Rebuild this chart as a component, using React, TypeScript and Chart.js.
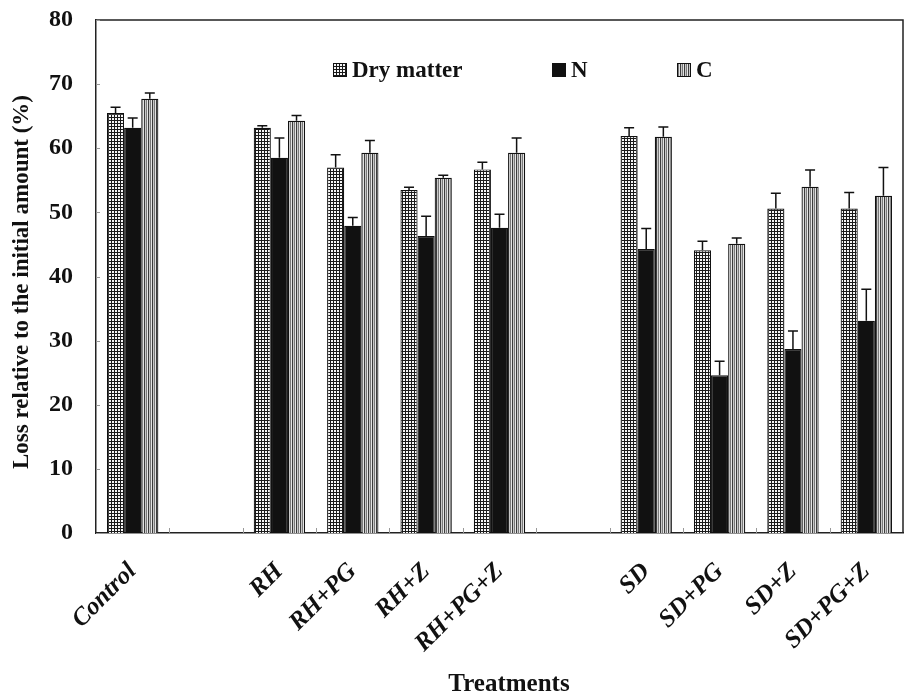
import React, { useEffect, useRef } from "react";
import { Chart, registerables } from "chart.js";

Chart.register(...registerables);

const categories = ["Control", "", "RH", "RH+PG", "RH+Z", "RH+PG+Z", "", "SD", "SD+PG", "SD+Z", "SD+PG+Z"];
const dryMatter = [65.5, null, 63.2, 57.0, 53.5, 56.7, null, 61.9, 44.1, 50.6, 50.6];
const dryMatterErr = [0.9, null, 0.3, 2.0, 0.4, 1.1, null, 1.3, 1.4, 2.4, 2.5];
const nitrogen = [63.2, null, 58.5, 47.9, 46.3, 47.6, null, 44.3, 24.6, 28.7, 33.1];
const nitrogenErr = [1.5, null, 3.1, 1.3, 3.1, 2.1, null, 3.2, 2.2, 2.8, 4.9];
const carbon = [67.7, null, 64.3, 59.3, 55.4, 59.3, null, 61.8, 45.1, 54.0, 52.6];
const carbonErr = [0.9, null, 0.8, 1.9, 0.4, 2.3, null, 1.5, 0.9, 2.6, 4.4];
const yTicks = [0, 10, 20, 30, 40, 50, 60, 70, 80];
const seriesNames = ["Dry matter", "N", "C"];

const SERIF = "'Liberation Serif', 'Times New Roman', serif";

function makePattern(kind: string): CanvasPattern | string {
  const c = document.createElement("canvas");
  const ctx = c.getContext("2d")!;
  if (kind === "dots") {
    c.width = 3; c.height = 3;
    ctx.fillStyle = "#1a1a1a"; ctx.fillRect(0, 0, 3, 3);
    ctx.fillStyle = "#f6f6f6"; ctx.fillRect(1, 1, 2, 2);
  } else if (kind === "stripes") {
    c.width = 4; c.height = 2;
    const cols = ["#3c3c3c", "#c8c8c8", "#7a7a7a", "#e4e4e4"];
    cols.forEach((col, i) => { ctx.fillStyle = col; ctx.fillRect(i, 0, 1, 2); });
  } else {
    return "#111";
  }
  const p = ctx.createPattern(c, "repeat");
  return p || "#888";
}

const zeroPad = (s: any) => {
  s.paddingTop = 0;
  s.paddingBottom = 0;
  s.paddingLeft = 0;
  s.paddingRight = 0;
};

export default function App() {
  const ref = useRef<HTMLCanvasElement>(null);
  useEffect(() => {
    document.body.style.margin = "0";
    const canvas = ref.current!;
    const dmFill = makePattern("dots");
    const nFill = makePattern("solid");
    const cFill = makePattern("stripes");
    const errs = [dryMatterErr, nitrogenErr, carbonErr];

    const decor = {
      id: "decor",
      afterDatasetsDraw(chart: any) {
        const ctx = chart.ctx;
        const ys = chart.scales.y;
        ctx.save();
        ctx.strokeStyle = "#111";
        ctx.lineWidth = 1.5;
        chart.data.datasets.forEach((ds: any, di: number) => {
          const meta = chart.getDatasetMeta(di);
          meta.data.forEach((el: any, i: number) => {
            const v = ds.data[i];
            const e = errs[di][i];
            if (v == null || e == null) return;
            const yTop = ys.getPixelForValue(v + e);
            ctx.beginPath();
            ctx.moveTo(el.x, el.y);
            ctx.lineTo(el.x, yTop);
            ctx.moveTo(el.x - 5, yTop);
            ctx.lineTo(el.x + 5, yTop);
            ctx.stroke();
          });
        });
        ctx.restore();
      },
      afterDraw(chart: any) {
        const ctx = chart.ctx;
        const a = chart.chartArea;
        const ys = chart.scales.y;
        ctx.save();
        // frame
        ctx.strokeStyle = "#222";
        ctx.lineWidth = 1.5;
        ctx.beginPath();
        ctx.moveTo(a.left, a.top);
        ctx.lineTo(a.right, a.top);
        ctx.lineTo(a.right, a.bottom);
        ctx.stroke();
        // small inner ticks
        ctx.strokeStyle = "#999";
        ctx.lineWidth = 1;
        yTicks.forEach((t) => {
          const y = Math.round(ys.getPixelForValue(t)) + 0.5;
          ctx.beginPath();
          ctx.moveTo(a.left, y);
          ctx.lineTo(a.left + 4, y);
          ctx.stroke();
        });
        const n = categories.length;
        const w = (a.right - a.left) / n;
        for (let i = 1; i < n; i++) {
          const x = Math.round(a.left + i * w) + 0.5;
          ctx.beginPath();
          ctx.moveTo(x, a.bottom);
          ctx.lineTo(x, a.bottom - 5);
          ctx.stroke();
        }
        // legend
        const fills = [dmFill, nFill, cFill];
        const lx = [333, 552, 677];
        const ly = 70;
        ctx.font = `bold 23px ${SERIF}`;
        ctx.textBaseline = "middle";
        ctx.textAlign = "left";
        seriesNames.forEach((name, i) => {
          ctx.fillStyle = fills[i] as any;
          ctx.fillRect(lx[i], ly - 7, 14, 14);
          ctx.strokeStyle = "#111";
          ctx.lineWidth = 1;
          ctx.strokeRect(lx[i] + 0.5, ly - 6.5, 13, 13);
          ctx.fillStyle = "#111";
          ctx.fillText(name, lx[i] + 19, ly + 1);
        });
        // axis titles
        ctx.fillStyle = "#111";
        ctx.font = `bold 25px ${SERIF}`;
        ctx.textAlign = "center";
        ctx.textBaseline = "middle";
        ctx.fillText("Treatments", 509, 685);
        ctx.font = `bold 23px ${SERIF}`;
        ctx.translate(22, 282);
        ctx.rotate(-Math.PI / 2);
        ctx.fillText("Loss relative to the initial amount (%)", 0, 0);
        ctx.restore();
      },
    };

    const chart = new Chart(canvas, {
      type: "bar",
      data: {
        labels: categories,
        datasets: [
          { label: seriesNames[0], data: dryMatter, backgroundColor: dmFill as any, borderColor: "#111", borderWidth: 1.2 },
          { label: seriesNames[1], data: nitrogen, backgroundColor: nFill as any, borderColor: "#111", borderWidth: 1.2 },
          { label: seriesNames[2], data: carbon, backgroundColor: cFill as any, borderColor: "#111", borderWidth: 1.2 },
        ],
      },
      options: {
        responsive: false,
        animation: false,
        devicePixelRatio: 1,
        layout: { padding: { top: 20, right: 1, left: 0, bottom: 0 } },
        plugins: { legend: { display: false }, tooltip: { enabled: false }, title: { display: false } },
        datasets: { bar: { categoryPercentage: 0.7, barPercentage: 1.0 } },
        scales: {
          x: {
            type: "category",
            grid: { display: false, drawTicks: false },
            border: { display: true, color: "#222", width: 1.5 },
            ticks: {
              autoSkip: false,
              maxRotation: 45,
              minRotation: 45,
              padding: 24,
              color: "#111",
              font: { family: SERIF, weight: "bold", style: "italic", size: 25 },
            },
            afterFit: (s: any) => { s.height = 164; zeroPad(s); },
          },
          y: {
            min: 0,
            max: 80,
            grid: { display: false, drawTicks: false },
            border: { display: true, color: "#222", width: 1.5 },
            ticks: {
              stepSize: 10,
              padding: 23,
              color: "#111",
              font: { family: SERIF, weight: "bold", size: 24 },
            },
            afterFit: (s: any) => { s.width = 96; zeroPad(s); },
          },
        },
      },
      plugins: [decor],
    });
    return () => chart.destroy();
  }, []);

  return (
    <div style={{ position: "absolute", left: 0, top: 0, width: 904, height: 697, background: "#fff" }}>
      <canvas ref={ref} width={904} height={697} style={{ display: "block" }} />
    </div>
  );
}
